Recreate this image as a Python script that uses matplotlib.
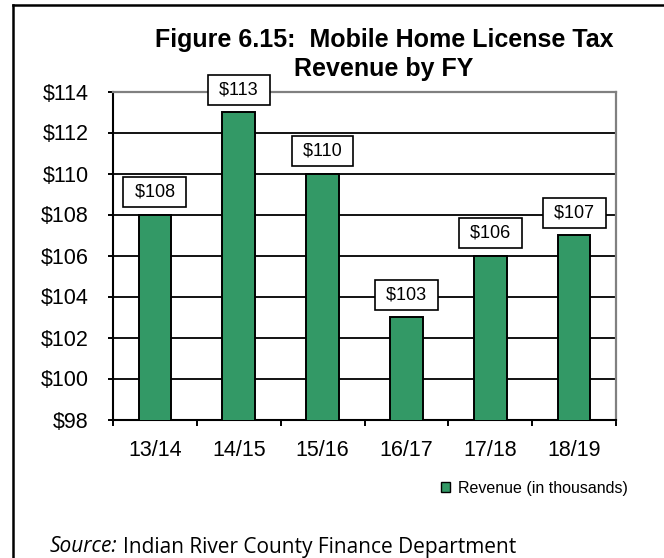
import matplotlib.pyplot as plt
from matplotlib.lines import Line2D
from matplotlib.patches import Patch

# === data ===
years = ["13/14", "14/15", "15/16", "16/17", "17/18", "18/19"]
revenue = [108, 113, 110, 103, 106, 107]
yticks = [98, 100, 102, 104, 106, 108, 110, 112, 114]

GREEN = "#339966"
FONT = "Liberation Sans"

fig = plt.figure(figsize=(6.64, 5.58), dpi=100)
ax = fig.add_axes([113 / 664, 1 - 419.5 / 558, (616 - 113) / 664, (419.5 - 91.5) / 558])

x = list(range(len(years)))
ax.bar(x, revenue, width=0.39, color=GREEN, edgecolor="black", linewidth=1.4, zorder=3)

ax.set_xlim(-0.5, len(years) - 0.5)
ax.set_ylim(98, 114)

# y axis
ax.set_yticks(yticks)
ax.set_yticklabels([f"${v}" for v in yticks], fontsize=15.5, family=FONT)
ax.tick_params(axis="y", length=3.6, width=1.4, pad=14, color="black")
ax.yaxis.grid(True, color="black", linewidth=1.3, zorder=1)
ax.set_axisbelow(True)

# x axis: ticks between categories, labels in the middle
ax.set_xticks([i - 0.5 for i in range(len(years) + 1)])
ax.set_xticklabels([])
ax.set_xticks(x, minor=True)
ax.set_xticklabels(years, minor=True, fontsize=15.5, family=FONT)
ax.tick_params(axis="x", which="major", length=4.3, width=1.4, color="black")
ax.tick_params(axis="x", which="minor", length=0, pad=14.5)

for side in ["left", "bottom"]:
    ax.spines[side].set_color("black")
    ax.spines[side].set_linewidth(1.5)
for side in ["top", "right"]:
    ax.spines[side].set_color("#808080")
    ax.spines[side].set_linewidth(1.6)

# value boxes
for i, v in enumerate(revenue):
    ax.annotate(f" ${v} ", xy=(i, v), xytext=(0, 16), textcoords="offset points",
                ha="center", va="center", fontsize=13, family=FONT, zorder=10,
                bbox=dict(boxstyle="square,pad=0.36", fc="white", ec="black", lw=1.2),
                annotation_clip=False)

# title
fig.text(384 / 664, 1 - 40 / 558, "Figure 6.15:  Mobile Home License Tax",
         ha="center", va="center", fontsize=18, fontweight="bold", family=FONT)
fig.text(384 / 664, 1 - 69 / 558, "Revenue by FY",
         ha="center", va="center", fontsize=18, fontweight="bold", family=FONT)

# legend
handle = Patch(facecolor=GREEN, edgecolor="black", linewidth=1.0)
fig.legend([handle], ["Revenue (in thousands)"], loc="center right",
           bbox_to_anchor=(628 / 664, 1 - 488 / 558), frameon=False,
           prop={"family": FONT, "size": 11.5}, handlelength=0.55, handleheight=0.55,
           handletextpad=0.5, borderpad=0, borderaxespad=0)

# source line
fig.text(50 / 664, 1 - 547 / 558, "Source:", style="italic", fontsize=15,
         family="Open Sans", va="center", ha="left")
fig.text(123 / 664, 1 - 547 / 558, "Indian River County Finance Department",
         fontsize=15, family="Open Sans", va="center", ha="left")

# outer frame (left and top edges visible)
fig.add_artist(Line2D([12.5 / 664, 12.5 / 664], [0, 1 - 5 / 558], color="black", lw=1.8))
fig.add_artist(Line2D([12.5 / 664, 1], [1 - 5 / 558, 1 - 5 / 558], color="black", lw=1.8))

fig.savefig("out.png", dpi=100)
